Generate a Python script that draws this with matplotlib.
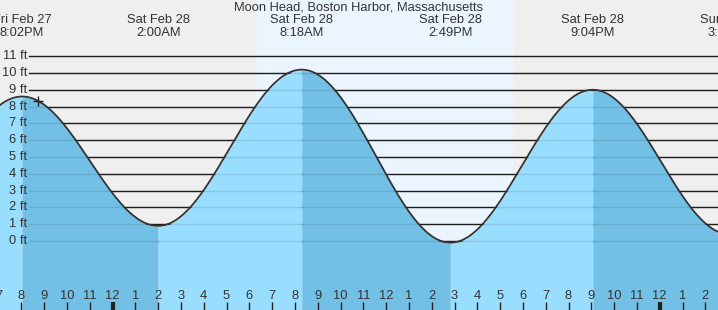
import numpy as np
import matplotlib.pyplot as plt
from matplotlib.transforms import blended_transform_factory

plt.rcParams['font.family'] = ['Liberation Sans', 'DejaVu Sans']

# Pleamares / bajamares (horas desde el vie 27 feb 00:00)
horas_evento = [13 + 50/60, 20 + 2/60, 26 + 0/60, 32 + 18/60, 38 + 49/60, 45 + 4/60, 51 + 4/60]
alturas_evento = [0.0, 8.6, 0.9, 10.2, -0.1, 9.0, 0.4]
dias_evento = ['Fri Feb 27', 'Fri Feb 27', 'Sat Feb 28', 'Sat Feb 28', 'Sat Feb 28', 'Sat Feb 28', 'Sun Mar 1']
horas_texto = ['1:50PM', '8:02PM', '2:00AM', '8:18AM', '2:49PM', '9:04PM', '3:04AM']

# Salida y puesta del sol (sáb 28 feb)
salida_sol = 30 + 20/60
puesta_sol = 41 + 31/60

# Marca de "ahora"
hora_actual = 20 + 43/60

titulo = 'Moon Head, Boston Harbor, Massachusetts'
niveles_ft = list(range(0, 12))

# Ejes en px: 22.8 px por hora, 8PM en x=21.3; 16.8 px por pie, 0 ft en y=241
W, H = 718, 310
px_hora = 22.8
t_min = 20 - 21.3 / px_hora
t_max = t_min + W / px_hora
px_ft = 16.8
y_min = -(H - 241) / px_ft
y_max = 241 / px_ft
fs = 9.3

fig = plt.figure(figsize=(W / 100, H / 100), dpi=100)
fig.patch.set_facecolor('#efefef')
ax = fig.add_axes([0, 0, 1, 1])
ax.set_facecolor('#efefef')
ax.set_xlim(t_min, t_max)
ax.set_ylim(y_min, y_max)
ax.set_xticks([])
ax.set_yticks([])
for s in ax.spines.values():
    s.set_visible(False)

# Fondo diurno
ax.axvspan(salida_sol, puesta_sol, color='#eaf5ff', zorder=0)

# Curva de marea (medio coseno entre extremos)
t_curva = []
h_curva = []
for i in range(len(horas_evento) - 1):
    t0, t1 = horas_evento[i], horas_evento[i + 1]
    h0, h1 = alturas_evento[i], alturas_evento[i + 1]
    t = np.linspace(t0, t1, 120)
    f = (t - t0) / (t1 - t0)
    h = h0 + (h1 - h0) * (1 - np.cos(np.pi * f)) / 2
    color = '#72c0e5' if h1 < h0 else '#99ddff'
    ax.fill_between(t, y_min - 1, h - 0.04, color=color, lw=0, zorder=2)
    t_curva.append(t)
    h_curva.append(h)
t_curva = np.concatenate(t_curva)
h_curva = np.concatenate(h_curva)

# Líneas de nivel
trans = blended_transform_factory(ax.transAxes, ax.transData)
x0 = 29 / W
for ft in niveles_ft:
    ax.axhline(ft, xmin=x0, xmax=1, color='#222222', lw=1, zorder=1)
    ax.axhline(ft, xmin=x0, xmax=1, color='black', alpha=0.1, lw=1, zorder=3)
    ax.text(27 / W, ft, f'{ft} ft', transform=trans, ha='right', va='center',
            fontsize=fs, color='#333333')

ax.plot(t_curva, h_curva, color='#333333', lw=1.3, zorder=4)

# Marca de ahora
ax.plot(hora_actual, np.interp(hora_actual, t_curva, h_curva), marker='+',
        ms=7, mew=1, color='#222222', zorder=5)

# Etiquetas de eventos
trans_x = blended_transform_factory(ax.transData, ax.transAxes)
for t, d, s in zip(horas_evento, dias_evento, horas_texto):
    ax.text(t, 1 - 20 / H, d, transform=trans_x, ha='center', va='center',
            fontsize=fs, color='#333333')
    ax.text(t, 1 - 32.5 / H, s, transform=trans_x, ha='center', va='center',
            fontsize=fs, color='#333333')

ax.text(0.5, 1 - 8 / H, titulo, transform=ax.transAxes, ha='center', va='center',
        fontsize=fs, color='#333333')

# Horas en el eje inferior
for hr in range(int(np.floor(t_min)), int(np.ceil(t_max)) + 1):
    h12 = hr % 12
    if h12 == 0:
        h12 = 12
    es_medianoche = hr % 24 == 0
    ax.plot([hr, hr], [0, 8 / H], transform=trans_x, color='#222222',
            lw=3 if es_medianoche else 1, zorder=6, solid_capstyle='butt')
    ax.text(hr, 14 / H, str(h12), transform=trans_x, ha='center', va='center',
            fontsize=fs, color='#333333', zorder=6)

fig.savefig('out.png', dpi=100, facecolor=fig.get_facecolor())
